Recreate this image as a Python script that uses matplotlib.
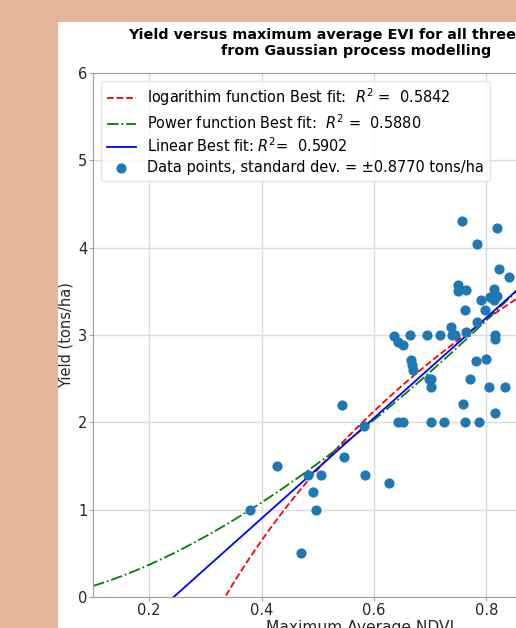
import numpy as np
import matplotlib
matplotlib.use("Agg")
import matplotlib.pyplot as plt
from matplotlib.patches import Rectangle

# ---- data ----
ndvi = [0.380, 0.428, 0.470, 0.483, 0.505, 0.492, 0.497, 0.543, 0.547, 0.583,
        0.584, 0.626, 0.642, 0.652, 0.636, 0.642, 0.652, 0.664, 0.695, 0.718,
        0.737, 0.738, 0.744, 0.763, 0.783, 0.816, 0.816, 0.665, 0.667, 0.670,
        0.698, 0.702, 0.702, 0.782, 0.799, 0.770, 0.805, 0.833, 0.758, 0.816,
        0.702, 0.725, 0.761, 0.787, 0.756, 0.819, 0.784, 0.822, 0.840, 0.750,
        0.750, 0.763, 0.813, 0.807, 0.814, 0.819, 0.812, 0.790, 0.762, 0.797]
yield_ = [1.00, 1.50, 0.50, 1.40, 1.40, 1.20, 1.00, 2.20, 1.60, 1.96,
          1.40, 1.30, 2.00, 2.00, 2.99, 2.92, 2.89, 3.00, 3.00, 3.00,
          3.09, 3.00, 3.00, 3.03, 3.15, 3.00, 2.95, 2.71, 2.66, 2.60,
          2.50, 2.50, 2.40, 2.70, 2.73, 2.50, 2.40, 2.40, 2.21, 2.11,
          2.00, 2.00, 2.00, 2.00, 4.30, 4.22, 4.04, 3.76, 3.66, 3.57,
          3.50, 3.52, 3.53, 3.43, 3.40, 3.45, 3.43, 3.40, 3.29, 3.29]

lin_coef = [5.75, -1.40]      # y = a*x + b
log_coef = [3.652, 3.994]     # y = a*ln(x) + b
pow_coef = [4.48, 1.55]       # y = a*x**b

labels = ["logarithim function Best fit:  $R^2$ =  0.5842",
          "Power function Best fit:  $R^2$ =  0.5880",
          "Linear Best fit: $R^2$=  0.5902",
          "Data points, standard dev. = \u00b10.8770 tons/ha"]

W, H = 516, 628
fig = plt.figure(figsize=(W / 100, H / 100), dpi=100, facecolor="#e6b499")
bg = Rectangle((58 / W, 0), 1 - 58 / W, 1 - 22 / H, transform=fig.transFigure,
               facecolor="white", edgecolor="none", zorder=-10)
fig.add_artist(bg)

ax_l, ax_r = 93, 627
ax_t, ax_b = 73, 597
ax = fig.add_axes([ax_l / W, 1 - ax_b / H, (ax_r - ax_l) / W, (ax_b - ax_t) / H])
ax.set_zorder(1)
ax.set_facecolor("white")

xs = np.linspace(0.1, 1.05, 400)
xl = xs[xs > 0.3]
ax.plot(xl, log_coef[0] * np.log(xl) + log_coef[1], "r--", lw=1.3, label=labels[0])
ax.plot(xs, pow_coef[0] * xs ** pow_coef[1], "g-.", lw=1.3, label=labels[1])
ax.plot(xs, lin_coef[0] * xs + lin_coef[1], "b-", lw=1.3, label=labels[2])
ax.scatter(ndvi, yield_, s=40, color="#1f77b4", zorder=3, label=labels[3])

ax.set_xlim(0.1, 1.05)
ax.set_ylim(0, 6)
ax.set_xticks([0.2, 0.4, 0.6, 0.8, 1.0])
ax.set_yticks([0, 1, 2, 3, 4, 5, 6])
ax.grid(True, color="#dcdcdc", lw=1)
ax.set_axisbelow(True)
for s in ax.spines.values():
    s.set_color("#a0a0a0")
ax.tick_params(colors="#a0a0a0", labelcolor="#262626", labelsize=10.5,
               length=3, pad=1)
ax.set_xlabel("Maximum Average NDVI", fontsize=11.2, color="#262626", labelpad=2)
ax.set_ylabel("Yield (tons/ha)", fontsize=10.5, color="#262626", labelpad=3)

leg = ax.legend(loc="upper left", fontsize=10.45, frameon=True, borderaxespad=0.55,
                labelspacing=0.32)
leg.get_frame().set_edgecolor("#dddddd")

t1 = fig.text(128 / W, 1 - 39.5 / H, "Yield versus maximum average EVI for all three",
              fontsize=10.4, fontweight="bold", ha="left", va="baseline")
t2 = fig.text(221 / W, 1 - 54.5 / H, "from Gaussian process modelling",
              fontsize=10.4, fontweight="bold", ha="left", va="baseline")
t1.set_zorder(5)
t2.set_zorder(5)

fig.savefig("out.png", dpi=100, facecolor=fig.get_facecolor())
